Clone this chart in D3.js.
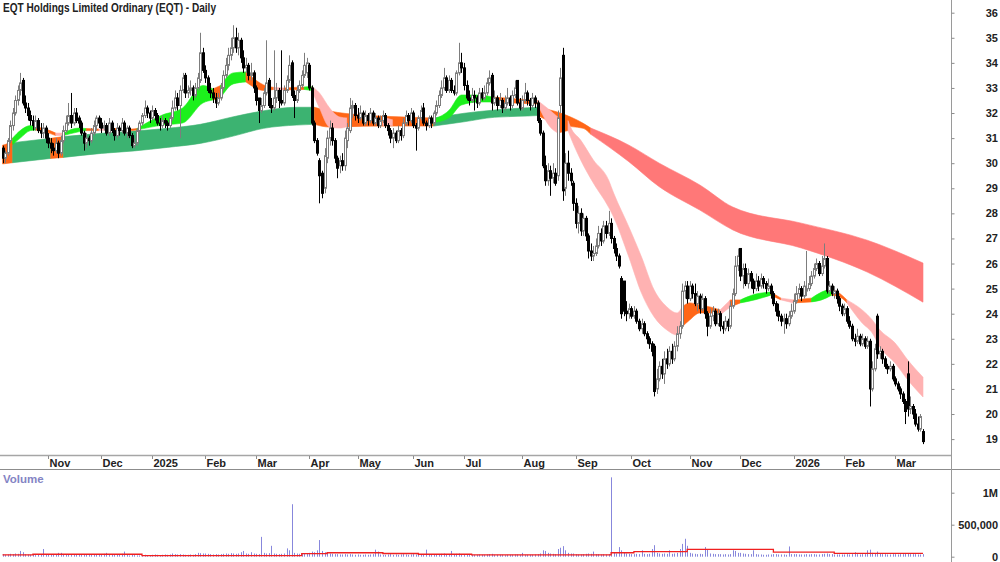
<!DOCTYPE html>
<html>
<head>
<meta charset="utf-8">
<script src="https://cdn.jsdelivr.net/npm/d3@7/dist/d3.min.js"></script>
<style>
  html, body { margin: 0; padding: 0; background: #fff; }
  svg { display: block; font-family: 'Liberation Sans', Arial, sans-serif; }
</style>
</head>
<body>
<div id="chart"></div>
<script>
// one row per trading day: [open, high, low, close, volume (thousands)]
const oct2024 = [
  [30.6,30.7,30.0,30.2,40],[30.2,30.5,30.0,30.4,30],[30.4,31.0,30.3,30.9,35],[30.9,31.7,30.8,31.5,45],[31.5,32.2,31.3,32.0,40],
  [32.0,32.7,31.9,32.5,50],[32.5,33.1,32.3,32.9,45],[32.9,33.6,32.7,33.2,90],[33.3,33.4,32.3,32.4,70],[32.4,32.7,32.0,32.2,40],
  [32.2,32.4,31.7,31.9,35],[31.9,32.1,31.5,31.7,30],[31.7,31.9,31.3,31.5,35],[31.4,31.9,31.3,31.7,25],[31.7,31.8,31.2,31.3,30],
  [31.3,31.6,31.0,31.2,40],[31.2,31.6,31.0,31.4,120],[31.4,31.5,30.8,31.0,35]
];
const nov2024 = [
  [31.0,31.2,30.6,30.8,30],[30.8,31.0,30.4,30.6,40],[30.6,30.8,30.3,30.5,35],[30.5,31.0,30.4,30.8,30],[30.8,30.9,30.2,30.4,60],
  [30.4,31.1,30.3,30.9,60],[30.9,31.5,30.8,31.3,30],[31.3,31.9,31.2,31.6,35],[31.6,32.4,31.5,31.9,40],[31.9,32.8,31.4,31.6,35],
  [31.6,32.2,31.5,32.0,30],[32.0,32.2,31.6,31.7,30],[31.8,31.9,31.4,31.6,35],[31.6,31.7,31.1,31.2,30],[31.2,31.3,30.5,30.8,40],
  [30.8,31.2,30.6,31.0,35],[31.0,31.1,30.7,30.9,30],[30.9,31.4,30.8,31.2,35],[31.2,31.7,31.1,31.5,30],[31.5,31.9,31.3,31.8,35],
  [31.8,31.9,31.4,31.6,40]
];
const dec2024 = [
  [31.6,31.8,31.2,31.4,40],[31.4,31.7,31.3,31.5,45],[31.5,31.6,31.1,31.2,60],[31.2,31.8,31.1,31.6,40],[31.6,31.7,31.2,31.3,35],
  [31.3,31.4,30.9,31.1,30],[31.1,31.6,31.0,31.4,40],[31.4,31.5,31.1,31.3,35],[31.3,31.8,31.2,31.6,45],[31.6,31.7,31.1,31.2,80],
  [31.2,31.5,31.0,31.4,30],[31.4,31.5,31.0,31.1,20],[31.1,31.2,30.6,30.7,30],[30.7,31.0,30.6,30.8,25],[30.8,31.4,30.7,31.3,20],
  [31.3,31.7,31.2,31.6,20],[31.6,32.0,31.5,31.9,25],[31.9,32.5,31.8,32.2,30],[32.2,32.3,31.8,32.0,25],[32.0,32.1,31.6,31.8,20]
];
const jan2025 = [
  [31.8,32.3,31.7,32.1,30],[32.1,32.2,31.7,31.9,35],[31.9,32.0,31.5,31.6,30],[31.6,31.8,31.3,31.5,25],[31.5,31.9,31.4,31.7,30],
  [31.7,31.8,31.4,31.6,35],[31.6,31.7,31.3,31.5,30],[31.5,31.9,31.4,31.8,35],[31.8,32.5,31.7,32.2,50],[32.2,32.9,32.1,32.6,40],
  [32.6,32.8,32.1,32.3,35],[32.3,33.1,31.0,32.9,40],[32.9,33.6,32.8,33.4,35],[33.5,33.6,32.6,32.8,30],[32.8,33.1,32.6,32.9,30],
  [32.9,33.3,32.7,33.0,35],[33.0,33.1,32.5,32.7,30],[32.7,33.2,32.6,33.0,40],[33.0,33.6,32.9,33.4,60],[33.3,35.2,33.2,34.4,55],
  [34.4,34.6,33.6,33.7,50]
];
const feb2025 = [
  [33.7,33.9,33.2,33.4,50],[33.4,33.5,32.8,32.9,45],[32.9,33.2,32.6,32.8,40],[32.8,33.0,32.4,32.6,35],[32.6,32.8,32.2,32.4,40],
  [32.4,32.8,32.3,32.6,35],[32.6,33.2,32.5,33.0,40],[33.0,33.7,32.9,33.5,45],[33.5,34.2,33.4,33.9,50],[33.9,34.6,33.7,34.3,45],
  [34.3,35.0,34.1,34.6,55],[34.6,35.5,34.4,35.0,50],[35.0,35.4,34.4,34.6,45],[34.6,35.2,34.3,34.9,50],[34.9,35.0,34.0,34.2,70],
  [34.2,34.5,33.6,33.8,90],[33.8,34.2,33.6,33.9,50],[33.9,34.0,33.3,33.5,45],[33.5,34.0,33.3,33.6,70],[33.6,33.7,32.8,33.0,50]
];
const mar2025 = [
  [33.0,33.1,32.3,32.5,45],[32.6,32.6,31.6,32.1,40],[32.1,32.6,32.0,32.3,310],[32.3,33.0,32.2,32.8,60],[32.8,34.9,32.7,33.2,50],
  [33.3,33.4,32.2,32.3,55],[32.3,32.6,32.0,32.2,170],[32.2,34.5,32.1,32.6,50],[32.6,33.2,32.4,32.9,45],[32.9,33.0,32.2,32.5,40],
  [32.5,34.5,32.3,32.4,45],[32.4,33.1,32.3,32.9,50],[32.9,33.5,32.8,33.3,130],[33.3,34.3,33.2,33.9,100],[34.0,34.1,32.6,32.7,820],
  [32.7,32.9,31.8,32.5,60],[32.5,33.1,32.4,32.9,50],[32.9,33.3,32.8,33.1,45],[33.1,33.7,33.0,33.5,40],[33.5,34.4,33.4,33.9,50],
  [33.6,34.2,33.4,34.0,45]
];
const apr2025 = [
  [33.9,34.0,32.9,33.0,60],[33.0,33.1,31.5,31.6,80],[31.6,31.7,30.8,30.9,70],[30.9,31.0,30.3,30.4,100],[30.1,30.2,28.4,29.5,260],
  [29.6,29.7,28.6,28.8,90],[29.0,30.6,28.8,30.3,70],[30.2,31.3,30.0,31.0,60],[31.0,31.7,30.7,31.4,50],[31.4,31.6,30.7,30.9,45],
  [30.9,31.0,30.0,30.2,40],[30.2,30.3,29.4,29.8,40],[29.9,30.3,29.6,30.1,35],[30.1,30.4,29.7,29.9,35],[29.9,31.3,29.7,31.0,40],
  [30.9,31.6,30.6,31.4,35],[31.3,32.6,31.2,32.2,40],[32.2,32.5,31.8,32.3,35],[32.3,32.4,31.7,31.9,30]
];
const may2025 = [
  [31.9,32.2,31.6,31.8,35],[31.8,32.3,31.7,32.0,30],[32.0,32.1,31.5,31.6,30],[31.6,32.1,31.5,31.9,35],[31.9,32.0,31.5,31.7,30],
  [31.7,32.2,31.6,32.0,35],[32.0,32.1,31.5,31.6,40],[31.6,32.0,31.5,31.8,110],[31.8,31.9,31.4,31.5,80],[31.5,31.9,31.4,31.7,35],
  [31.7,32.1,31.6,31.9,30],[31.9,32.0,31.4,31.5,30],[31.5,31.6,31.1,31.3,35],[31.3,31.4,30.8,31.0,40],[31.0,31.4,30.6,31.2,30],
  [31.2,31.3,30.8,30.9,35],[30.9,31.5,30.8,31.3,30],[31.3,31.4,30.9,31.1,35],[31.1,31.8,31.0,31.6,40],[31.6,32.1,31.5,31.9,35],
  [31.9,32.0,31.5,31.7,30],[31.7,32.2,31.6,32.0,35]
];
const jun2025 = [
  [32.0,32.1,31.4,31.5,40],[31.5,31.6,30.5,31.4,35],[31.4,31.9,31.3,31.8,30],[31.8,32.3,31.7,32.1,35],[32.2,32.4,31.5,31.6,40],
  [31.6,31.7,31.3,31.5,110],[31.5,31.9,31.4,31.8,35],[31.8,31.9,31.4,31.6,30],[31.6,32.1,31.5,32.0,35],[32.0,32.5,31.9,32.3,40],
  [32.3,32.9,32.2,32.7,40],[32.7,33.3,32.6,33.0,45],[33.0,33.8,32.9,33.4,50],[33.4,33.5,32.8,32.9,40],[32.9,33.5,32.8,33.3,35],
  [33.3,33.4,32.8,32.9,90],[32.9,33.1,32.7,32.8,40],[32.8,33.7,32.7,33.6,45],[33.6,34.8,33.5,34.0,50],[34.0,34.4,33.6,33.8,40]
];
const jul2025 = [
  [33.8,34.0,32.9,33.1,40],[33.1,33.3,32.5,32.6,35],[32.6,32.9,32.3,32.5,30],[32.5,33.0,32.4,32.7,30],[32.7,32.9,32.1,32.6,30],
  [32.6,32.7,32.2,32.4,30],[32.4,33.0,32.3,32.8,35],[32.8,33.0,32.5,32.6,30],[32.6,33.1,32.5,32.8,30],[32.8,33.4,32.7,33.2,35],
  [33.2,33.7,33.1,33.4,40],[33.5,33.6,32.1,32.4,45],[32.4,32.9,32.3,32.6,30],[32.6,32.7,32.1,32.3,30],[32.3,32.8,32.2,32.5,30],
  [32.5,32.6,32.0,32.2,30],[32.2,32.7,32.1,32.4,25],[32.4,33.0,32.3,32.6,30],[32.6,32.7,32.1,32.3,30],[32.3,32.9,32.2,32.7,30],
  [32.7,33.3,32.6,33.0,35],[33.3,33.3,32.3,32.4,35],[32.4,32.6,32.1,32.2,30]
];
const aug2025 = [
  [32.2,32.7,32.1,32.5,60],[32.5,33.2,32.4,32.8,30],[32.8,32.9,32.3,32.5,30],[32.5,32.6,32.1,32.3,30],[32.3,32.8,32.2,32.6,30],
  [32.6,32.7,32.2,32.4,35],[32.4,32.5,31.6,31.7,40],[31.7,31.8,31.1,31.2,50],[31.2,31.3,29.8,29.9,100],[29.9,30.3,29.1,29.3,90],
  [29.3,30.0,29.1,29.7,60],[29.7,29.9,28.7,29.4,50],[29.4,30.0,29.2,29.6,45],[29.6,29.8,29.1,29.2,40],[29.5,32.1,29.3,31.8,120],
  [32.3,33.8,32.0,33.4,140],[34.3,34.6,28.5,28.9,165],[29.0,30.4,28.7,30.0,100],[30.0,30.5,29.3,29.6,60],[29.6,29.8,29.1,29.3,50],
  [29.2,29.3,28.1,28.4,50]
];
const sep2025 = [
  [28.4,28.6,27.4,27.6,40],[27.6,28.3,27.2,28.0,35],[28.0,28.2,27.1,27.3,35],[27.3,28.0,27.1,27.8,40],[27.8,27.9,26.9,27.1,45],
  [27.1,27.2,26.2,26.5,50],[26.5,26.8,26.1,26.3,45],[26.3,26.7,26.1,26.4,80],[26.4,27.0,26.3,26.7,40],[26.7,27.5,26.6,27.2,40],
  [27.2,27.4,26.7,26.9,35],[26.9,27.7,26.8,27.5,40],[27.5,27.7,27.0,27.2,35],[27.2,28.1,27.1,27.6,40],[27.6,27.8,26.8,27.0,1240],
  [27.0,27.1,26.4,26.6,60],[26.6,26.8,26.1,26.3,50],[26.3,26.4,25.8,25.9,150],[25.4,25.5,23.8,24.0,100],[25.3,25.3,23.9,24.1,70],
  [24.1,24.5,23.7,24.0,50],[24.0,24.4,23.8,24.2,45]
];
const oct2025 = [
  [24.2,24.3,23.8,23.9,40],[23.9,24.3,23.8,24.1,40],[24.1,24.2,23.6,23.7,45],[23.7,23.8,23.3,23.4,40],[23.4,23.8,23.2,23.6,100],
  [23.6,23.7,23.1,23.2,45],[23.2,23.3,22.8,23.0,40],[23.0,23.1,22.6,22.8,45],[22.8,22.9,22.3,22.5,120],[22.7,22.8,20.7,20.9,180],
  [21.0,21.8,20.8,21.4,60],[21.4,22.1,21.3,21.9,50],[21.9,22.2,21.4,21.6,45],[21.6,22.5,21.2,22.2,50],[22.2,22.6,21.8,22.0,45],
  [22.0,22.7,21.9,22.5,100],[22.5,22.8,22.0,22.2,45],[22.2,22.9,22.1,22.7,50],[22.7,23.5,22.5,23.2,60],[23.2,23.7,23.0,23.5,120],
  [23.5,25.2,23.4,24.9,200],[24.9,25.3,24.6,25.1,280],[25.1,25.3,24.4,24.6,170]
];
const nov2025 = [
  [24.6,25.3,24.5,25.1,60],[25.1,25.2,24.6,24.8,50],[24.8,25.2,24.3,24.4,45],[24.4,24.9,24.1,24.7,40],[24.7,24.8,24.0,24.2,45],
  [24.2,24.8,24.1,24.6,40],[24.6,24.7,23.8,24.0,150],[24.0,24.1,23.1,23.5,120],[23.5,24.2,23.4,23.9,50],[23.9,24.3,23.7,24.1,45],
  [24.1,24.2,23.5,23.6,40],[23.6,24.2,23.5,24.0,40],[24.0,24.1,23.3,23.5,40],[23.5,23.7,23.2,23.4,35],[23.4,23.9,23.3,23.7,40],
  [23.7,23.8,23.3,23.5,35],[23.5,24.5,23.4,24.3,40],[24.3,25.0,24.2,24.8,100],[24.8,26.3,24.7,25.9,90],[25.9,26.6,25.7,26.3,60]
];
const dec2025 = [
  [26.6,26.6,25.3,25.5,60],[25.5,26.0,25.0,25.8,50],[25.8,26.0,25.1,25.2,45],[25.2,25.8,25.0,25.6,40],[25.6,25.7,25.0,25.3,40],
  [25.3,25.4,24.8,25.0,100],[25.0,25.6,24.9,25.3,40],[25.3,25.5,24.9,25.1,35],[25.1,25.6,25.0,25.4,35],[25.4,25.5,25.0,25.2,30],
  [25.2,25.3,24.8,25.0,30],[25.0,25.4,24.9,25.1,35],[25.1,25.2,24.6,24.8,35],[24.8,24.9,24.3,24.4,40],[24.4,24.5,23.9,24.1,40],
  [24.1,24.4,23.7,23.9,35],[23.9,24.0,23.5,23.7,35],[23.7,24.0,23.2,23.8,35],[23.8,24.0,23.4,23.6,30],[23.6,24.1,23.5,23.9,160],
  [23.9,24.4,23.8,24.1,40]
];
const jan2026 = [
  [24.1,24.8,24.0,24.5,40],[24.5,25.1,24.4,24.8,40],[24.8,25.2,24.6,25.0,35],[25.0,25.1,24.5,24.7,35],[24.7,25.3,24.6,25.1,35],
  [24.9,26.5,24.7,25.0,40],[25.0,25.5,24.9,25.2,35],[25.2,25.7,25.1,25.5,40],[25.5,26.0,25.4,25.8,40],[25.8,26.2,25.7,26.0,35],
  [26.0,26.1,25.5,25.6,35],[25.6,26.3,25.5,25.9,40],[25.9,26.8,25.8,26.2,45],[26.2,26.3,24.8,24.9,50],[24.9,25.3,24.8,25.1,40],
  [25.1,25.2,24.7,24.8,40],[24.8,25.1,24.6,24.9,35],[24.9,25.0,24.4,24.6,35],[24.6,24.7,24.1,24.3,35],[24.3,24.4,23.9,24.0,35]
];
const feb2026 = [
  [24.0,24.4,23.9,24.2,35],[24.2,24.3,23.6,23.7,40],[23.7,23.9,23.4,23.5,35],[23.5,23.6,22.9,23.0,40],[23.0,23.2,22.7,22.9,70],
  [22.9,23.4,22.8,23.1,40],[23.1,23.2,22.7,22.8,35],[22.8,23.2,22.7,23.0,40],[23.0,23.1,22.6,22.7,40],[22.7,23.1,22.6,22.9,100],
  [22.9,23.0,20.3,21.0,110],[21.0,22.1,20.9,21.8,60],[21.8,22.8,21.7,22.6,50],[23.9,24.0,22.2,22.4,80],[22.4,22.7,22.2,22.5,45],
  [22.5,22.6,22.0,22.2,40],[22.2,22.3,21.8,21.9,40],[21.9,22.0,21.6,21.8,35],[21.8,22.1,21.7,21.9,35],[21.9,22.0,21.3,21.4,40]
];
const mar2026 = [
  [21.4,21.5,21.1,21.2,40],[21.2,21.3,20.9,21.0,35],[21.0,21.1,20.6,20.8,40],[20.8,20.9,20.4,20.5,40],[20.5,20.6,19.6,20.1,45],
  [21.6,22.1,19.9,20.2,50],[20.2,20.7,20.0,20.3,40],[20.3,20.4,19.8,20.0,40],[20.0,20.2,19.5,19.6,40],[19.6,19.9,19.3,19.4,35],
  [19.4,20.0,19.3,19.9,35],[19.3,19.4,18.8,18.9,40]
];

// month label shown at the first bar of each month (first partial month unlabeled)
const months = [
  ['', oct2024], ['Nov', nov2024], ['Dec', dec2024], ['2025', jan2025], ['Feb', feb2025], ['Mar', mar2025],
  ['Apr', apr2025], ['May', may2025], ['Jun', jun2025], ['Jul', jul2025], ['Aug', aug2025], ['Sep', sep2025],
  ['Oct', oct2025], ['Nov', nov2025], ['Dec', dec2025], ['2026', jan2026], ['Feb', feb2026], ['Mar', mar2026]
];

// guppy-style bands: [bar index, upper, lower, state of following segment]
const shortBand = [
  [0,30.6,30.3,'mix'],[4,31.0,30.75,'up'],[7,31.3,31.0,'up'],[11,31.5,31.3,'up'],[13,31.45,31.32,'mix'],
  [17,31.36,31.24,'mix'],[21,31.2,31.1,'down'],[24,31.2,31.1,'up'],[30,31.4,31.25,'up'],[33,31.38,31.3,'mix'],
  [38,31.36,31.3,'down'],[42,31.4,31.32,'mix'],[51,31.36,31.3,'mix'],[53,31.38,31.32,'up'],[63,31.92,31.52,'up'],
  [71,32.2,31.6,'up'],[79,33.1,32.4,'up'],[83,32.96,32.52,'mix'],[86,33.1,32.6,'up'],[91,33.6,33.16,'up'],
  [96,33.64,33.24,'mix'],[103,33.12,32.9,'mix'],[107,33.02,32.94,'down'],[111,33.0,32.92,'mix'],[119,33.04,32.94,'up'],
  [122,33.06,32.9,'down'],[125,32.8,32.2,'down'],[129,32.2,31.44,'down'],[133,31.84,31.4,'down'],[136,31.8,31.46,'mix'],
  [150,31.84,31.5,'down'],[154,31.72,31.5,'mix'],[169,31.72,31.6,'up'],[176,32.1,31.8,'up'],[181,32.72,32.32,'up'],
  [188,32.72,32.44,'up'],[193,32.64,32.44,'mix'],[211,32.5,32.36,'down'],[216,32.1,31.44,'down'],[219,31.84,31.2,'mix'],
  [223,31.7,31.3,'down'],[224,31.44,31.04,'down'],[228,30.92,30.13,'down'],[233,30.13,29.21,'down'],[239,29.33,28.25,'down'],
  [241,28.81,27.85,'down'],[247,27.46,26.26,'down'],[252,26.26,24.82,'down'],[257,24.94,23.87,'down'],[262,24.27,23.35,'down'],
  [266,24.03,23.15,'down'],[268,24.27,23.47,'mix'],[271,24.43,23.75,'mix'],[275,24.35,24.03,'mix'],[279,24.27,24.03,'mix'],
  [283,24.15,23.95,'down'],[287,24.55,24.27,'mix'],[291,24.55,24.43,'up'],[297,24.78,24.56,'up'],[303,24.86,24.74,'mix'],
  [307,24.62,24.55,'down'],[312,24.55,24.43,'mix'],[319,24.62,24.47,'up'],[323,24.86,24.55,'up'],[327,25.0,24.74,'mix'],
  [331,24.74,24.62,'mix'],[333,24.55,24.43,'down'],[339,24.15,23.63,'down'],[343,23.75,23.23,'down'],[346,23.35,22.67,'down'],
  [352,22.83,22.03,'down'],[357,22.15,21.36,'down'],[363,21.47,20.68,'down']
];
const longBand = [
  [0,30.72,29.97,'mix'],[4,30.82,30.02,'up'],[19,30.99,30.19,'mix'],[24,31.06,30.23,'up'],[39,31.19,30.39,'up'],
  [52,31.28,30.49,'up'],[65,31.39,30.63,'up'],[78,31.55,30.79,'up'],[91,31.85,31.08,'up'],[103,32.09,31.39,'up'],
  [116,32.23,31.52,'up'],[123,32.23,31.55,'mix'],[129,32.08,31.44,'mix'],[142,31.92,31.48,'mix'],[156,31.85,31.48,'mix'],
  [170,31.8,31.48,'up'],[182,31.99,31.65,'up'],[194,32.12,31.83,'up'],[207,32.21,31.88,'up'],[211,32.23,31.9,'mix'],
  [220,32.0,31.52,'mix'],[229,31.59,31.39,'mix'],[232,31.4,31.15,'down'],[247,30.72,30.06,'down'],[259,30.0,29.06,'down'],
  [275,29.13,28.13,'down'],[288,28.25,27.34,'down'],[315,27.61,26.62,'down'],[341,26.93,25.66,'down'],[363,26.02,24.46,'down']
];

// volume average line (thousands), step levels: [bar index, level]
const volumeAvg = [
  [0,30],[12,38],[55,18],[118,47],[128,62],[150,50],[164,38],[185,28],[240,62],[249,78],[270,115],[304,73],[328,53],[363,53]
];

const priceTicks = [19,20,21,22,23,24,25,26,27,28,29,30,31,32,33,34,35,36];
const volumeTicks = [0, 500, 1000];
const volumeTickLabels = ['0', '500,000', '1M'];

const shortColors = { up: '#1cf01c', mix: '#ff6617', down: '#ffb2b2' };
const longColors = { up: '#3cb371', mix: '#ff6617', down: '#ff7878' };

/* flatten */
const bars = [];
const monthStarts = [];
months.forEach(([label, rows]) => {
  monthStarts.push({ label, index: bars.length });
  rows.forEach(r => bars.push({ i: bars.length, o: r[0], h: r[1], l: r[2], c: r[3], v: r[4] }));
});

const W = 1000, H = 562;
const axisX = 951.5;

const x = d3.scaleLinear().domain([0, bars.length - 1]).range([2.5, 923]);
const y = d3.scaleLinear().domain([36, 19]).range([12.7, 439.1]);
const yv = d3.scaleLinear().domain([0, 1000]).range([556.7, 492.7]);

const svg = d3.select('#chart').append('svg')
  .attr('width', W)
  .attr('height', H);

svg.append('rect').attr('width', W).attr('height', H).attr('fill', '#fff');

/* bands */
function runs(samples) {
  const out = [];
  let cur = null;
  samples.forEach(s => {
    if (!cur || cur.state !== s[3]) {
      if (cur) cur.pts.push(s);
      cur = { state: s[3], pts: [s] };
      out.push(cur);
    } else {
      cur.pts.push(s);
    }
  });
  return out.filter(r => r.pts.length > 1);
}

const band = d3.area()
  .x(d => x(d[0]))
  .y0(d => y(d[2]))
  .y1(d => y(d[1]))
  .curve(d3.curveMonotoneX);

svg.append('g').attr('class', 'long-band')
  .selectAll('path')
  .data(runs(longBand)).enter()
  .append('path')
  .attr('d', d => band(d.pts))
  .attr('fill', d => longColors[d.state])
  .attr('stroke', d => longColors[d.state])
  .attr('stroke-width', 0.6);

svg.append('g').attr('class', 'short-band')
  .selectAll('path')
  .data(runs(shortBand)).enter()
  .append('path')
  .attr('d', d => band(d.pts))
  .attr('fill', d => shortColors[d.state])
  .attr('stroke', d => shortColors[d.state])
  .attr('stroke-width', 0.6);

/* candles */
const upGray = '#7d7d7d';
const candles = svg.append('g').attr('class', 'candles')
  .selectAll('g')
  .data(bars).enter()
  .append('g');

candles.append('line')
  .attr('x1', d => Math.round(x(d.i)) + 0.5)
  .attr('x2', d => Math.round(x(d.i)) + 0.5)
  .attr('y1', d => y(d.h))
  .attr('y2', d => y(d.l))
  .attr('stroke', d => d.c >= d.o ? upGray : '#000')
  .attr('stroke-width', 1);

candles.append('rect')
  .attr('x', d => Math.round(x(d.i)) - 0.5)
  .attr('width', 2)
  .attr('y', d => y(Math.max(d.o, d.c)))
  .attr('height', d => Math.max(0.6, Math.abs(y(d.o) - y(d.c))))
  .attr('fill', d => d.c >= d.o ? '#fff' : '#000')
  .attr('stroke', d => d.c >= d.o ? upGray : '#000')
  .attr('stroke-width', 1);

/* frame */
svg.append('line').attr('x1', 0).attr('x2', axisX).attr('y1', 455.5).attr('y2', 455.5)
  .attr('stroke', '#a6a6a6').attr('stroke-width', 1.5);
svg.append('line').attr('x1', 0).attr('x2', W).attr('y1', 469.5).attr('y2', 469.5)
  .attr('stroke', '#8c8c8c');
svg.append('line').attr('x1', axisX).attr('x2', axisX).attr('y1', 0).attr('y2', H)
  .attr('stroke', '#9a9a9a');

/* title */
svg.append('text')
  .attr('x', 3).attr('y', 12)
  .attr('font-size', 12).attr('font-weight', 'bold').attr('fill', '#222')
  .attr('textLength', 213).attr('lengthAdjust', 'spacingAndGlyphs')
  .text('EQT Holdings Limited Ordinary (EQT) - Daily');

/* price axis */
const yAxis = d3.axisRight(y).tickValues(priceTicks).tickSize(3).tickFormat(d3.format('d'));
const gy = svg.append('g')
  .attr('transform', `translate(${axisX},0)`)
  .call(yAxis);
gy.select('.domain').remove();
gy.selectAll('line').attr('stroke', '#8c8c8c');
gy.selectAll('text')
  .attr('x', 998 - axisX).attr('text-anchor', 'end')
  .attr('font-size', 11).attr('font-weight', 'bold').attr('fill', '#222')
  .attr('font-family', "'Liberation Sans', Arial, sans-serif");

/* month axis */
const gm = svg.append('g').attr('class', 'months');
gm.selectAll('line')
  .data(monthStarts.filter(m => m.label)).enter()
  .append('line')
  .attr('x1', d => Math.round(x(d.index)) + 0.5)
  .attr('x2', d => Math.round(x(d.index)) + 0.5)
  .attr('y1', 456).attr('y2', 459)
  .attr('stroke', '#8c8c8c');
gm.selectAll('text')
  .data(monthStarts.filter(m => m.label)).enter()
  .append('text')
  .attr('x', d => Math.round(x(d.index)) + 1.5)
  .attr('y', 467)
  .attr('font-size', 11).attr('font-weight', 'bold').attr('fill', '#222')
  .text(d => d.label);

/* volume */
svg.append('text')
  .attr('x', 3).attr('y', 483)
  .attr('font-size', 11.5).attr('font-weight', 'bold').attr('fill', '#8484c4')
  .text('Volume');

svg.append('g').attr('class', 'volume')
  .selectAll('line')
  .data(bars).enter()
  .append('line')
  .attr('x1', d => Math.round(x(d.i)) + 0.5)
  .attr('x2', d => Math.round(x(d.i)) + 0.5)
  .attr('y1', yv(0))
  .attr('y2', d => yv(d.v))
  .attr('stroke', '#8787dc')
  .attr('stroke-width', 1);

const avgLine = d3.line()
  .x(d => x(d[0]))
  .y(d => yv(d[1]))
  .curve(d3.curveStepAfter);
svg.append('path')
  .attr('d', avgLine(volumeAvg))
  .attr('fill', 'none')
  .attr('stroke', '#f02020')
  .attr('stroke-width', 1.3);

const vAxis = d3.axisRight(yv).tickValues(volumeTicks).tickSize(3)
  .tickFormat((d, k) => volumeTickLabels[k]);
const gv = svg.append('g')
  .attr('transform', `translate(${axisX},0)`)
  .call(vAxis);
gv.select('.domain').remove();
gv.selectAll('line').attr('stroke', '#8c8c8c');
gv.selectAll('text')
  .attr('x', 998 - axisX).attr('text-anchor', 'end')
  .attr('font-size', 11).attr('font-weight', 'bold').attr('fill', '#222')
  .attr('font-family', "'Liberation Sans', Arial, sans-serif");
</script>
</body>
</html>
